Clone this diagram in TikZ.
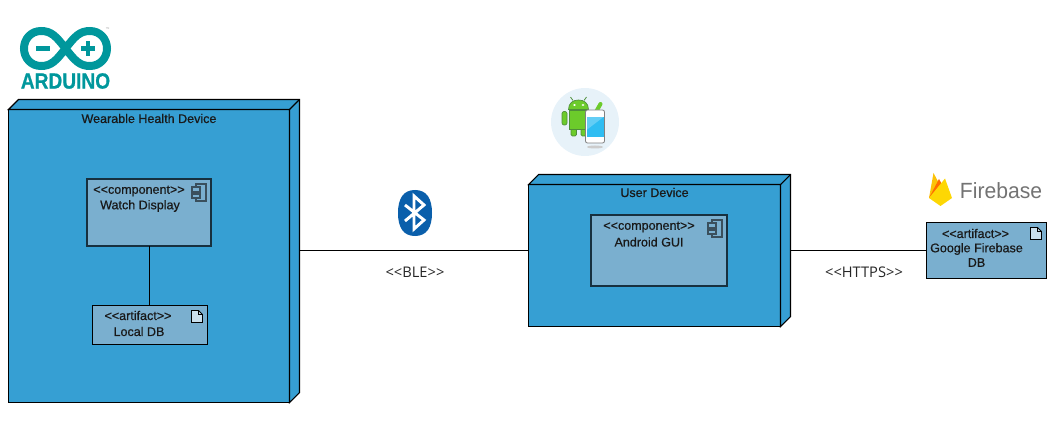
\documentclass[tikz,border=0pt]{standalone}
\usepackage{fontspec}
\setmainfont{Liberation Sans}
\newfontfamily\boxfont[FakeBold=0.6]{Liberation Sans}
\newfontfamily\logofont[FakeBold=0.8]{Liberation Sans Bold}
\newfontfamily\linkfont{Open Sans}
\usetikzlibrary{calc}
\usetikzlibrary{positioning}
\definecolor{nodeblue}{HTML}{369FD3}
\definecolor{innerblue}{HTML}{7AAFCF}
\definecolor{darkedge}{HTML}{17303F}
\definecolor{arduinoteal}{HTML}{00979C}
\definecolor{btblue}{HTML}{0A5FAB}
\definecolor{droidgreen}{HTML}{6CCB2B}
\definecolor{droidedge}{HTML}{4E8F3A}
\definecolor{palecircle}{HTML}{E7F2F9}
\definecolor{screenblue}{HTML}{2FBDF2}
\tikzset{
	device/.style={draw=black,rectangle,fill=nodeblue,line width=.8pt,outer sep=0pt,inner sep=0pt},
	compbox/.style={draw=darkedge,rectangle,fill=innerblue,line width=1.5pt,outer sep=0pt,inner sep=0pt},
	artbox/.style={draw=black,rectangle,fill=innerblue,line width=.8pt,outer sep=0pt,inner sep=0pt},
	lbl/.style={inner sep=0pt,font=\fontsize{9.4pt}{10pt}\boxfont,text=black!90},
	linklbl/.style={inner sep=0pt,font=\fontsize{11pt}{12pt}\linkfont,text=black!85},
	wire/.style={draw=black,line width=.8pt}
}
% sides of the 3d box
\newcommand{\devsides}[1]{%
	\draw[device,line join=miter] (#1.north west) -- ($(#1.north west)+(10,-10)$) -- ($(#1.north east)+(10,-10)$) -- ($(#1.south east)+(10,-10)$) -- (#1.south east) -- (#1.north east) -- cycle;
	\draw[black,line width=.8pt] (#1.north east) -- ($(#1.north east)+(10,-10)$);
}
\newcommand{\compicon}[1]{%
	\begin{scope}[shift={(#1)},draw=darkedge!85,line width=.8pt]
		\draw (4,0) rectangle (14,17);
		\draw[fill=innerblue] (0,3) rectangle (8,8);
		\draw[fill=innerblue] (0,10) rectangle (8,14);
	\end{scope}
}
\newcommand{\docicon}[1]{%
	\begin{scope}[shift={(#1)},draw=black,line width=.7pt]
		\draw[fill=innerblue!40] (0,0) -- (7,0) -- (11,4) -- (11,12) -- (0,12) -- cycle;
		\draw (7,0) -- (7,4) -- (11,4);
	\end{scope}
}

\begin{document}
\begin{tikzpicture}[x=.75pt,y=-.75pt]
	\useasboundingbox (0,0) rectangle (1060,431);

	% boxes
	\node[device, minimum width=281*.75pt, minimum height=293*.75pt] (wearable) at (149,256) {};
	\devsides{wearable}
	\node[compbox, minimum width=124*.75pt, minimum height=67*.75pt] (watch) at (149,212.5) {};
	\node[artbox, minimum width=115*.75pt, minimum height=39*.75pt] (localdb) at (150,325) {};
	\node[device, minimum width=252*.75pt, minimum height=142*.75pt] (user) at (654.5,255.5) {};
	\devsides{user}
	\node[compbox, minimum width=136*.75pt, minimum height=71*.75pt] (gui) at (659,250.5) {};
	\node[artbox, minimum width=120*.75pt, minimum height=56*.75pt] (firebase) at (986.5,250.5) {};

	\coordinate (wearableR) at ($(wearable.east)+(10,0)$);
	\coordinate (userR) at ($(user.east)+(10,0)$);
	\coordinate (watchS) at ($(watch.south)+(.5,0)$);

	% connectors
	\draw[wire] (watchS) -- (watchS |- localdb.north);
	\draw[wire] (wearableR |- firebase.west) -- (user.west |- firebase.west);
	\draw[wire] (userR |- firebase.west) -- (firebase.west);

	\compicon{$(watch.north east)+(-19,5)$}
	\compicon{$(gui.north east)+(-19,5)$}
	\docicon{$(localdb.north east)+(-16,5)$}
	\docicon{$(firebase.north east)+(-16,5)$}

	% texts
	\node[lbl] (wearabletitle) at ($(wearable.north)+(0,9)$) {Wearable Health Device};
	\node[lbl] (watchstereo) at ($(watch.north)+(-10,12)$) {<<component>>};
	\node[lbl] (watchname) at ($(watch.north)+(-9,27)$) {Watch Display};
	\node[lbl] (localstereo) at ($(localdb.north)+(-12,10)$) {<<artifact>>};
	\node[lbl] (localname) at ($(localdb.north)+(-11,26)$) {Local DB};
	\node[lbl] (usertitle) at ($(user.north)+(0,8)$) {User Device};
	\node[lbl] (guistereo) at ($(gui.north)+(-10,12)$) {<<component>>};
	\node[lbl] (guiname) at ($(gui.north)+(-10,27)$) {Android GUI};
	\node[lbl] (firestereo) at ($(firebase.north)+(-11,11)$) {<<artifact>>};
	\node[lbl] (firename) at ($(firebase.north)+(-10,26.5)$) {Google Firebase};
	\node[lbl] (firedb) at ($(firebase.north)+(-10,40)$) {DB};
	\node[linklbl] (ble) at (415,272) {<<BLE>>};
	\node[linklbl] (https) at (864,272) {<<HTTPS>>};

	% arduino logo
	\draw[arduinoteal,line width=6pt] (65.5,48.5) .. controls (56,36) and (51,31) .. (41,31) .. controls (31,31) and (24,39) .. (24,48.5) .. controls (24,58) and (31,66) .. (41,66) .. controls (51,66) and (56,61) .. (65.5,48.5) .. controls (75,36) and (80,31) .. (90,31) .. controls (100,31) and (107,39) .. (107,48.5) .. controls (107,58) and (100,66) .. (90,66) .. controls (80,66) and (75,61) .. (65.5,48.5) -- cycle;
	\fill[arduinoteal] (36,46) rectangle (50,50.7);
	\fill[arduinoteal] (81,46) rectangle (95,50.7);
	\fill[arduinoteal] (85.7,41) rectangle (90.3,55.7);
	\node[inner sep=0pt, text=arduinoteal, font=\fontsize{16.5pt}{17pt}\logofont, xscale=.87] (arduinotext) at (65.5,81) {ARDUINO};
	\node[inner sep=0pt, text=black!35, font=\fontsize{3pt}{3pt}\selectfont] (arduinotm) at (107.5,29) {™};

	% android logo
	\fill[palecircle] (585,122) circle[radius=34];
	\fill[black!20] (595,147) ellipse[x radius=8, y radius=1.5];
	\draw[droidedge,fill=droidgreen,line width=.5pt,rounded corners=1.5pt] (562,111.5) rectangle (567,125);
	\draw[droidedge,fill=droidgreen,line width=.5pt,rounded corners=1pt] (571,126) rectangle (576.5,136);
	\draw[droidedge,fill=droidgreen,line width=.5pt,rounded corners=1pt] (581,126) rectangle (586,136);
	\draw[droidedge,fill=droidgreen,line width=.5pt] (569,110.5) rectangle (588,129);
	\draw[droidedge,fill=droidgreen,line width=.5pt] (568.5,109.5) .. controls (568.5,103) and (573,100) .. (578.5,100) .. controls (584,100) and (588.5,103) .. (588.5,109.5) -- cycle;
	\draw[droidedge,line width=.6pt] (573,100.5) -- (570.5,97);
	\draw[droidedge,line width=.6pt] (584,100.5) -- (586.5,97);
	\fill[white] (574.5,105) ellipse[x radius=1.4, y radius=1];
	\fill[white] (583,105) ellipse[x radius=1.4, y radius=1];
	\draw[droidgreen,line width=3pt,line cap=round] (596.5,111) -- (600.5,104);
	\draw[black!50,fill=white,line width=.6pt,rounded corners=1.5pt] (585.5,110) rectangle (604.5,143);
	\fill[screenblue] (586.5,117) rectangle (603.5,137.5);
	\fill[white,opacity=.25] (586.5,130) -- (603.5,117) -- (586.5,117) -- cycle;

	% bluetooth logo
	\fill[btblue] (415,190) .. controls (427,190) and (432,199) .. (432,213) .. controls (432,227) and (427,236) .. (415,236) .. controls (403,236) and (398,227) .. (398,213) .. controls (398,199) and (403,190) .. (415,190) -- cycle;
	\draw[white,line width=2.2pt,line join=miter] (405,205) -- (424,220) -- (414,229) -- (414,196) -- (424,205) -- (405,221);

	% firebase logo
	\fill[yellow!55!orange] (929,198) -- (933.5,173) -- (941,187) -- cycle;
	\fill[orange!85!red] (929,198) -- (939,179) -- (944,188) -- (936,198) -- cycle;
	\fill[yellow!75!orange] (929,198) -- (945,178.5) -- (952,198) -- (940.5,206) -- cycle;
	\node[inner sep=0pt, text=black!55, font=\fontsize{16.5pt}{17pt}\selectfont, xscale=.96] (firebasetext) at (1001,190.5) {Firebase};
\end{tikzpicture}
\end{document}
